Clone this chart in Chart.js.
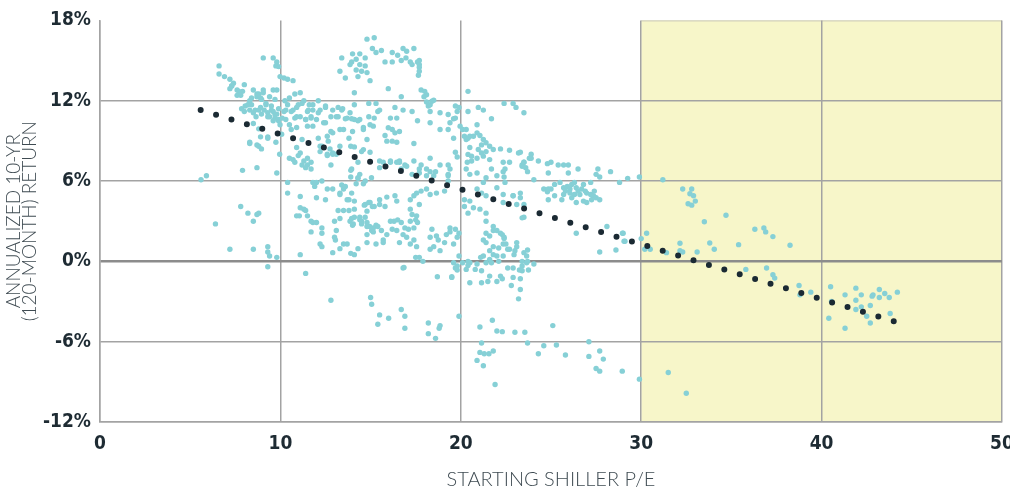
<!DOCTYPE html>
<html>
<head>
<meta charset="utf-8">
<script src="https://cdn.jsdelivr.net/npm/chart.js@4/dist/chart.umd.min.js"></script>
<style>
  html, body { margin: 0; padding: 0; background: #ffffff; }
  #wrap { width: 1010px; height: 492px; position: relative; }
</style>
</head>
<body>
<div id="wrap"><canvas id="c"></canvas></div>
<script>
// ---- Data: [starting Shiller P/E, annualized 10-yr return %] ----
const peUnder10 = [
  [5.6,6.1],[5.9,6.4],[6.4,2.8],[7.2,0.9],[6.6,14.6],[6.6,14.0],[6.9,13.8],[7.2,13.6],[7.3,13.1],[7.4,13.3],
  [7.2,12.9],[7.6,12.8],[7.9,12.7],[7.6,12.4],[7.8,12.4],[8.0,13.2],[7.8,4.1],[8.2,3.6],[8.7,3.5],[8.8,3.6],
  [8.5,3.0],[7.9,6.8],[8.7,7.0],[9.8,6.6],[8.5,0.9],[9.3,1.1],[9.3,0.7],[9.4,0.4],[9.8,0.3],[9.3,-0.4],
  [8.5,12.8],[8.8,12.5],[9.05,12.8],[8.7,12.3],[8.3,12.0],[8.4,11.7],[8.9,12.2],[8.6,11.3],[8.9,11.5],[9.1,11.3],
  [8.95,11.0],[9.3,11.1],[9.4,10.8],[9.6,11.2],[9.7,10.7],[9.8,11.0],[9.9,10.5],[9.5,11.6],[9.2,11.8],[8.65,10.8],
  [8.3,11.3],[8.0,11.2],[7.85,11.4],[8.05,11.6],[8.5,10.3],[8.8,9.9],[9.3,9.3],[8.9,9.3],[8.3,8.8],[8.7,8.7],
  [8.95,8.4],[9.75,8.9],[9.96,8.0],[9.05,15.2],[9.6,15.2],[9.8,14.9],[9.75,14.6],[9.9,14.55],[9.98,13.8],[9.8,12.8],
  [9.6,12.8],[8.4,12.2],[8.7,12.5],[8.96,12.1],[9.2,11.7],[9.5,11.3],[9.7,10.97],[9.9,10.6],[9.6,10.5],[9.3,10.8],
  [8.8,11.3],[8.5,11.1],[8.2,11.7],[9.05,12.6],[7.7,12.7],[7.3,13.1],[9.3,9.2],[8.3,8.9],[8.8,8.6],[9.7,12.1],
  [9.4,12.3],[9.9,11.4]
];
const pe10to15 = [
  [10.3,10.6],[10.2,11.2],[10.1,10.7],[9.98,10.2],[10.4,5.9],[10.4,5.1],[11.4,-0.9],[11.1,4.85],[12.0,4.75],[12.5,4.6],
  [11.8,5.9],[12.0,5.9],[11.9,5.6],[12.3,6.0],[12.6,5.4],[12.9,5.4],[13.3,5.0],[13.4,5.7],[13.5,5.4],[13.6,5.6],
  [13.9,6.8],[13.9,6.3],[14.2,5.8],[14.6,5.8],[14.3,6.2],[11.1,4.0],[11.3,3.9],[11.4,3.8],[10.9,3.4],[11.05,3.4],
  [11.5,3.4],[11.7,3.0],[11.8,2.9],[12.0,2.9],[11.7,2.2],[12.3,2.5],[12.3,2.1],[13.0,3.0],[13.3,3.2],[13.1,2.3],
  [13.0,1.8],[13.05,1.6],[13.5,1.3],[13.7,1.3],[12.2,1.3],[12.3,1.1],[12.9,0.65],[13.3,0.95],[13.9,0.6],[14.3,0.95],
  [11.1,0.5],[13.2,3.8],[13.5,3.8],[13.8,3.8],[14.1,3.9],[13.95,3.2],[14.4,3.3],[14.7,3.3],[14.0,2.7],[14.5,3.0],
  [14.8,2.9],[14.95,2.6],[14.8,2.0],[13.7,4.6],[14.1,4.5],[14.65,4.2],[14.9,4.4],[14.8,3.75],[10.25,12.0],[10.5,12.2],
  [10.8,12.5],[11.1,12.6],[10.3,11.3],[10.7,11.3],[10.99,11.7],[11.3,12.0],[11.6,11.7],[11.8,11.3],[11.5,11.2],[12.1,12.0],
  [12.2,11.3],[12.5,11.6],[10.8,10.7],[11.1,10.8],[11.4,10.6],[11.7,10.8],[12.0,10.6],[10.5,10.2],[10.9,10.0],[11.5,10.1],
  [11.8,10.1],[12.4,10.35],[12.9,11.3],[13.4,11.3],[13.1,10.8],[13.7,10.7],[14.1,10.6],[14.4,10.6],[14.9,10.8],[14.6,10.0],
  [14.0,9.7],[13.5,9.85],[12.9,9.6],[12.6,9.35],[12.1,9.2],[13.8,9.2],[14.8,9.1],[13.9,8.6],[14.5,8.2],[12.2,8.6],
  [12.75,8.4],[13.1,8.0],[10.9,8.5],[11.1,8.1],[10.7,7.6],[11.5,7.7],[11.7,7.4],[11.2,7.2],[12.6,7.9],[12.8,7.2],
  [13.95,6.9],[14.3,6.25],[14.8,16.6],[14.0,15.5],[14.4,15.5],[14.7,15.2],[14.2,15.1],[13.95,14.9],[13.4,15.2],[13.6,13.7],
  [13.3,14.2],[14.4,14.7],[14.7,14.6],[14.5,14.2],[14.3,13.8],[14.8,14.1],[14.97,13.5],[14.1,12.6],[10.2,13.7],[10.4,13.6],
  [10.7,13.5],[13.45,11.4],[13.86,11.1],[13.2,10.8],[13.6,10.65],[13.95,10.65],[14.3,10.5],[13.3,9.85],[14.6,9.85],[14.1,8.55],
  [14.6,8.35],[14.97,8.15],[12.9,8.1],[14.1,11.7],[14.9,11.8],[10.5,7.7],[10.99,7.9],[10.8,7.4],[11.3,7.5],[11.5,7.2],
  [11.4,7.0],[11.7,6.9],[12.2,8.2],[12.6,8.0],[12.9,8.0],[13.3,5.1],[13.8,4.6],[13.95,5.1],[14.7,4.25],[14.7,6.0],
  [14.4,6.5],[14.3,7.4],[13.86,3.0],[14.1,3.3],[14.4,3.1],[14.5,2.8],[14.04,2.8],[14.8,2.6],[14.8,1.4],[14.1,0.5],
  [12.8,-2.9],[13.86,14.7],[14.2,14.3],[10.4,11.7],[10.6,11.2],[10.9,11.5],[11.2,11.8],[11.55,11.3],[11.8,11.7],[12.1,11.1],
  [10.9,10.8],[11.4,10.6],[11.7,10.7],[12.5,11.5],[12.8,10.8],[13.2,11.5],[12.5,10.35],[10.07,9.5],[10.6,9.85],[11.2,9.1],
  [12.8,9.7],[12.65,8.98],[13.3,8.6],[12.3,8.6]
];
const pe15to20 = [
  [15.2,16.7],[15.1,15.9],[15.3,15.6],[15.6,15.75],[16.2,15.6],[16.5,15.4],[16.8,15.9],[17.0,15.7],[17.4,15.9],[16.7,15.0],
  [16.96,15.2],[15.8,14.9],[16.2,14.9],[17.2,14.9],[17.3,14.7],[17.6,14.9],[17.7,15.0],[17.7,14.7],[17.7,14.5],[17.7,14.2],
  [17.65,13.9],[15.98,12.9],[16.7,12.3],[17.8,12.8],[18.0,12.7],[18.1,12.45],[17.96,12.3],[18.1,11.9],[18.3,11.7],[18.4,11.96],
  [18.5,12.04],[18.2,11.6],[18.3,11.2],[19.7,11.6],[19.9,11.5],[19.8,11.2],[19.7,10.7],[19.6,10.65],[19.3,10.97],[19.4,10.35],
  [18.85,11.1],[18.3,10.35],[17.6,10.5],[17.3,11.2],[16.8,11.3],[16.35,11.5],[16.1,10.7],[16.45,10.7],[15.98,9.98],[15.5,11.3],
  [15.3,11.8],[15.15,10.1],[16.2,9.85],[15.8,9.4],[16.35,9.6],[16.6,9.7],[16.2,8.98],[16.45,8.9],[15.9,8.98],[17.4,8.8],
  [15.2,10.7],[15.4,11.2],[14.97,10.2],[18.85,9.85],[19.3,9.85],[19.96,10.1],[19.6,9.2],[19.7,8.15],[19.8,7.8],[18.85,7.2],
  [18.3,7.7],[17.8,7.2],[17.4,7.5],[16.9,7.2],[16.6,7.4],[16.1,7.4],[15.5,7.5],[19.3,7.2],[19.4,6.9],[19.3,6.4],
  [18.3,6.7],[18.1,6.4],[17.7,6.6],[17.3,6.5],[15.05,6.25],[15.5,7.0],[15.7,7.4],[16.45,7.4],[16.6,7.5],[16.1,7.5],
  [17.0,7.1],[16.7,6.9],[17.7,6.9],[18.1,6.9],[18.5,6.4],[19.3,6.5],[19.3,6.0],[19.1,5.25],[18.65,5.1],[18.3,5.0],
  [18.6,6.7],[14.97,4.4],[15.2,4.1],[15.5,4.25],[15.8,4.1],[15.9,4.8],[16.35,4.9],[16.45,4.5],[17.2,4.6],[17.4,4.9],
  [17.55,5.1],[17.8,5.25],[18.1,5.4],[17.7,4.25],[17.2,3.9],[17.3,3.5],[17.55,3.4],[15.1,4.1],[15.5,4.6],[15.3,2.7],
  [15.15,2.2],[15.06,2.3],[15.15,2.5],[15.4,2.6],[15.6,2.3],[15.7,1.6],[15.9,2.0],[16.2,2.4],[16.3,3.0],[16.5,3.1],
  [16.7,2.9],[16.9,2.5],[17.2,3.0],[17.5,3.1],[17.6,2.9],[17.4,2.5],[17.1,2.4],[16.8,2.0],[16.45,2.3],[16.1,3.0],
  [16.6,1.4],[17.0,1.8],[17.4,1.6],[17.2,1.3],[17.55,1.1],[18.4,2.4],[18.3,1.8],[18.3,0.9],[18.65,1.9],[18.75,1.6],
  [18.5,1.1],[18.85,0.8],[19.1,1.4],[19.2,2.0],[19.4,2.5],[19.7,2.4],[19.8,1.8],[15.3,1.3],[15.7,1.4],[17.5,0.3],
  [17.7,0.3],[17.9,0.0],[16.8,-0.5],[19.4,2.2],[19.9,2.1],[19.6,1.3],[19.9,0.4],[19.6,-0.1],[19.7,-0.5],[19.8,-0.65],
  [19.5,-1.2],[19.8,-0.35],[15.0,-2.7],[15.06,-3.2],[15.5,-4.0],[15.4,-4.7],[16.0,-4.25],[16.7,-3.6],[16.9,-4.1],[16.9,-5.0],
  [18.2,-4.6],[18.2,-5.4],[18.6,-5.75],[18.8,-5.0],[16.85,-0.45],[18.7,-1.15],[19.5,-1.15],[19.9,-4.1],[18.85,-4.8]
];
const pe20to25 = [
  [20.4,12.7],[20.97,11.5],[20.4,11.2],[21.25,11.3],[21.7,10.65],[22.4,11.8],[22.9,11.8],[23.06,11.5],[23.5,11.1],[20.9,10.2],
  [20.1,9.85],[20.2,9.35],[20.4,9.2],[20.5,9.35],[20.3,9.1],[20.3,9.85],[20.7,9.35],[20.9,9.6],[21.06,9.4],[21.25,9.1],
  [21.4,8.86],[21.6,8.6],[21.15,8.7],[20.97,8.36],[20.5,8.5],[20.4,7.99],[20.6,7.86],[20.9,7.7],[21.15,8.1],[21.4,8.2],
  [21.8,8.36],[22.2,8.4],[22.7,8.3],[23.3,8.15],[23.5,7.4],[23.8,7.7],[22.35,7.4],[22.45,6.9],[21.7,6.9],[20.36,7.4],
  [20.3,6.9],[20.5,6.5],[20.6,7.5],[21.25,7.86],[21.6,7.6],[20.9,6.6],[21.4,6.25],[22.0,6.4],[22.35,6.7],[22.7,7.4],
  [23.4,7.2],[23.6,7.0],[23.2,8.1],[22.45,5.9],[21.25,5.9],[20.9,5.4],[21.15,5.1],[21.4,4.9],[22.0,5.5],[22.35,5.0],
  [22.9,4.9],[23.3,5.1],[20.2,4.6],[20.5,4.5],[20.7,4.0],[21.06,3.9],[21.4,3.6],[20.2,4.1],[20.4,3.6],[23.5,3.3],
  [21.4,3.0],[21.8,2.6],[22.0,2.3],[22.3,2.0],[21.6,1.9],[21.25,1.6],[22.35,1.3],[22.1,1.0],[22.7,0.9],[23.1,1.1],
  [23.0,0.8],[23.5,0.65],[23.65,0.4],[22.35,0.4],[21.6,0.15],[22.0,0.4],[21.25,0.4],[20.9,-0.2],[20.5,-0.1],[20.3,-0.6],
  [22.9,-0.5],[23.4,-0.7],[23.65,-0.1],[20.1,-0.1],[20.4,0.0],[20.4,-0.3],[21.4,2.1],[21.8,2.3],[22.2,2.1],[22.4,1.7],
  [21.4,1.4],[21.8,1.1],[22.5,1.3],[23.1,1.4],[23.7,0.85],[21.6,0.8],[21.8,0.5],[22.6,0.9],[22.95,0.5],[21.1,0.3],
  [21.4,-0.1],[21.7,-0.1],[22.1,0.0],[20.8,-0.6],[21.15,-0.7],[21.6,-1.1],[22.2,-1.1],[22.3,-1.3],[21.5,-1.5],[21.15,-1.6],
  [20.5,-1.6],[22.0,-1.5],[22.6,-0.5],[22.8,-1.8],[22.9,-1.2],[23.3,-1.3],[23.3,-2.1],[23.2,-2.8],[23.25,-0.65],[23.75,-0.65],
  [23.4,0.0],[23.7,0.0],[24.05,-0.2],[23.4,-0.35],[21.06,-4.9],[21.75,-4.4],[22.0,-5.2],[22.3,-5.25],[23.0,-5.3],[23.55,-5.3],
  [21.15,-6.1],[21.06,-6.8],[21.3,-6.9],[21.56,-6.9],[21.8,-6.7],[20.9,-7.4],[21.25,-7.8],[21.9,-9.2],[23.7,-6.1],[24.6,-6.3],
  [24.3,-6.9],[23.9,8.0],[23.9,7.7],[24.3,7.5],[24.8,7.3],[23.7,6.7],[23.4,7.1],[23.5,7.4],[22.4,6.3],[24.05,6.1],
  [24.6,5.4],[24.85,5.4],[24.8,5.2],[24.85,4.6],[22.9,4.9],[23.3,4.75],[22.35,4.4],[23.1,4.25],[23.5,4.25],[23.4,3.25],
  [22.4,1.8]
];
const pe25to30 = [
  [25.0,7.4],[25.4,7.2],[25.7,7.2],[25.96,7.2],[26.5,6.9],[25.96,6.6],[24.85,6.6],[27.6,6.9],[27.5,6.5],[27.7,6.3],
  [28.3,6.7],[29.25,6.2],[29.9,6.3],[28.8,5.9],[25.0,5.4],[25.2,5.75],[25.5,5.9],[25.7,5.5],[25.9,5.6],[26.05,5.4],
  [26.15,5.75],[26.3,5.9],[26.4,5.5],[26.5,5.25],[26.7,5.4],[26.9,5.25],[26.98,5.1],[27.2,5.0],[27.35,4.9],[27.5,4.75],
  [27.7,4.6],[27.4,5.25],[27.2,5.9],[26.8,5.75],[26.6,5.0],[26.3,5.0],[26.05,5.1],[25.8,5.25],[25.6,4.6],[26.15,4.75],
  [26.4,4.4],[26.8,4.5],[26.98,4.4],[27.25,4.6],[25.2,4.9],[25.7,5.0],[26.4,2.1],[28.1,2.6],[29.0,2.1],[29.05,1.5],
  [27.7,0.7],[28.6,0.85],[28.96,2.1],[29.1,1.5],[25.3,-6.25],[25.1,-4.8],[25.8,-7.0],[27.1,-6.0],[27.1,-7.1],[27.7,-6.7],
  [27.9,-7.3],[27.5,-8.0],[27.7,-8.2],[28.95,-8.2],[29.9,-8.8]
];
const peOver30 = [
  [30.3,2.1],[30.0,1.7],[31.2,6.1],[32.3,5.4],[32.8,5.4],[32.7,5.05],[32.9,4.9],[33.0,4.5],[32.6,4.3],[32.8,4.2],
  [33.5,2.96],[34.7,3.45],[30.2,0.9],[30.5,0.9],[32.15,1.35],[33.8,1.37],[34.05,0.9],[32.15,0.8],[32.3,0.7],[33.1,0.7],
  [31.4,0.65],[35.4,1.25],[36.3,2.4],[36.8,2.5],[36.9,2.2],[37.3,1.85],[38.25,1.2],[35.8,-0.6],[36.95,-0.5],[37.3,-1.0],
  [37.4,-1.25],[38.75,-1.8],[38.8,-2.5],[31.5,-8.3],[32.5,-9.85],[39.4,-2.3],[40.5,-1.9],[40.55,-3.0],[40.4,-4.25],[41.3,-2.5],
  [41.3,-5.0],[41.9,-2.0],[42.2,-2.5],[41.9,-2.9],[42.2,-3.4],[41.9,-3.6],[42.5,-4.1],[42.7,-4.6],[42.7,-3.3],[42.8,-2.6],
  [42.85,-2.5],[43.2,-2.1],[43.2,-2.7],[43.5,-2.4],[43.75,-2.7],[44.2,-2.3],[43.8,-3.9]
];
// trend line endpoints (P/E, return %)
const trendPE = [5.58, 44.2];
const trendReturn = [11.3, -4.55];
// axis ticks and highlighted P/E zone
const xTicks = [0, 10, 20, 30, 40, 50];
const yTicks = [-12, -6, 0, 6, 12, 18];
const highlightPE = [30, 50];

const allPoints = [].concat(peUnder10, pe10to15, pe15to20, pe20to25, pe25to30, peOver30)
  .map(p => ({ x: p[0], y: p[1] }));
const trendPoints = trendPE.map((v, i) => ({ x: v, y: trendReturn[i] }));

const highlightPlugin = {
  id: 'highlight',
  beforeDraw(chart) {
    const { ctx, scales: { x, y } } = chart;
    const l = x.getPixelForValue(highlightPE[0]);
    const r = x.getPixelForValue(highlightPE[1]);
    const t = y.getPixelForValue(yTicks[yTicks.length - 1]);
    const b = y.getPixelForValue(yTicks[0]);
    ctx.save();
    ctx.fillStyle = '#f7f6c9';
    ctx.fillRect(l, t, r - l, b - t);
    ctx.strokeStyle = '#c9c8b8';
    ctx.lineWidth = 1;
    ctx.beginPath();
    ctx.moveTo(l, t + 0.5);
    ctx.lineTo(r, t + 0.5);
    ctx.stroke();
    ctx.restore();
  }
};

const tickFont = { family: "'Liberation Sans Narrow', 'DejaVu Sans Condensed', sans-serif", size: 19, weight: 'bold' };
const titleFont = { family: "Lato, 'Open Sans', sans-serif", size: 20, weight: '300' };

new Chart(document.getElementById('c'), {
  type: 'scatter',
  data: {
    datasets: [
      {
        type: 'line',
        data: trendPoints,
        borderColor: '#1b2a33',
        borderWidth: 6,
        borderDash: [0, 16.1],
        borderCapStyle: 'round',
        pointRadius: 0,
        fill: false,
        order: 0
      },
      {
        data: allPoints,
        backgroundColor: '#86d0d6',
        borderWidth: 0,
        pointRadius: 2.7,
        pointHoverRadius: 2.7,
        order: 1
      }
    ]
  },
  options: {
    responsive: true,
    maintainAspectRatio: false,
    animation: false,
    events: [],
    layout: { padding: { top: 20, right: 8, bottom: 0, left: 0 } },
    plugins: { legend: { display: false }, tooltip: { enabled: false } },
    scales: {
      x: {
        type: 'linear',
        min: xTicks[0], max: xTicks[xTicks.length - 1],
        afterBuildTicks: s => { s.ticks = xTicks.map(v => ({ value: v })); },
        afterFit: s => { s.height = 70; s.paddingLeft = 0; s.paddingRight = 0; },
        grid: { color: '#a3a3a3', lineWidth: 1.5, drawTicks: false },
        border: { display: true, color: '#a3a3a3', width: 1.5 },
        ticks: { color: '#1e2b33', font: tickFont, padding: 11, maxRotation: 0 },
        title: {
          display: true, text: 'STARTING SHILLER P/E', color: '#3f4b52',
          font: titleFont, padding: { top: 0, bottom: 0 }
        }
      },
      y: {
        type: 'linear',
        min: yTicks[0], max: yTicks[yTicks.length - 1],
        afterBuildTicks: s => { s.ticks = yTicks.map(v => ({ value: v })); },
        afterFit: s => { s.width = 100; },
        grid: {
          color: c => c.tick.value === 0 ? '#8c8c8c' : (c.tick.value === 18 ? 'rgba(0,0,0,0)' : '#a3a3a3'),
          lineWidth: c => c.tick.value === 0 ? 2.5 : 1.5,
          drawTicks: false
        },
        border: { display: true, color: '#a3a3a3', width: 1.5 },
        ticks: { color: '#1e2b33', font: tickFont, padding: 9, callback: v => v + '%' },
        title: {
          display: true, text: ['ANNUALIZED 10-YR', '(120-MONTH) RETURN'], color: '#3f4b52',
          font: Object.assign({}, titleFont, { size: 19, lineHeight: '16px' }), padding: { top: 6, bottom: 0 }
        }
      }
    }
  },
  plugins: [highlightPlugin]
});
</script>
</body>
</html>
